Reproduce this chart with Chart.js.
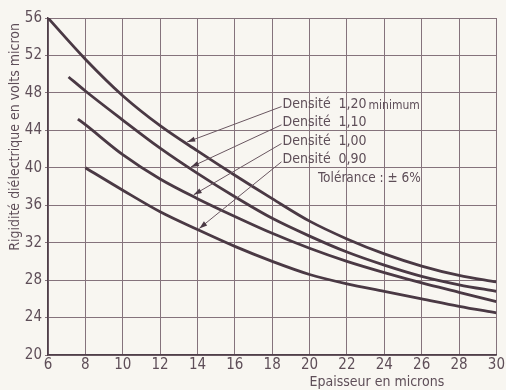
<!DOCTYPE html>
<html>
<head>
<meta charset="utf-8">
<script src="https://cdn.jsdelivr.net/npm/chart.js@4.4.1/dist/chart.umd.min.js"></script>
<style>
  html, body { margin: 0; padding: 0; background: #f8f6f1; }
  #wrap { width: 506px; height: 390px; position: relative; }
</style>
</head>
<body>
<div id="wrap"><canvas id="c" width="506" height="390"></canvas></div>
<script>
// ---- data ----
const seriesNames = ['Densité 1,20 minimum', 'Densité 1,10', 'Densité 1,00', 'Densité 0,90'];
const densityWord = 'Densité';
const densityValues = ['1,20', '1,10', '1,00', '0,90'];
const firstSuffix = 'minimum';
const toleranceText = 'Tolérance : ± 6%';

const xD120 = [6, 8, 10, 12, 14, 16, 18, 20, 22, 24, 26, 28, 30];
const yD120 = [56, 51.6, 47.7, 44.5, 41.8, 39.2, 36.7, 34.3, 32.4, 30.8, 29.5, 28.5, 27.8];

const xD110 = [7.1, 8, 10, 12, 14, 16, 18, 20, 22, 24, 26, 28, 30];
const yD110 = [49.7, 48.2, 45.1, 42.1, 39.4, 36.9, 34.6, 32.7, 31.0, 29.6, 28.4, 27.5, 26.8];

const xD100 = [7.6, 8, 10, 12, 14, 16, 18, 20, 22, 24, 26, 28, 30];
const yD100 = [45.2, 44.6, 41.4, 38.8, 36.7, 34.8, 33.0, 31.4, 30.0, 28.8, 27.7, 26.7, 25.7];

const xD090 = [8, 10, 12, 14, 16, 18, 20, 22, 24, 26, 28, 30];
const yD090 = [40.0, 37.6, 35.3, 33.4, 31.6, 30.0, 28.6, 27.6, 26.8, 26.0, 25.2, 24.5];

const xTickLabels = ['6', '8', '10', '12', '14', '16', '18', '20', '22', '24', '26', '28', '30'];
const yTickLabels = ['20', '24', '28', '32', '36', '40', '44', '48', '52', '56'];
const xTitle = 'Epaisseur en microns';
const yTitle = 'Rigidité diélectrique en volts micron';

// ---- build ----
const xsAll = [xD120, xD110, xD100, xD090];
const ysAll = [yD120, yD110, yD100, yD090];
const FONT = "'DejaVu Sans Condensed', 'Liberation Sans Narrow', 'DejaVu Sans', sans-serif";
const INK = '#4a3944';
const GRID = '#85737c';
const TEXT = '#5e4e58';

function toPts(xs, ys) { return xs.map((x, i) => ({ x: x, y: ys[i] })); }
function interp(xs, ys, x) {
  for (let i = 0; i < xs.length - 1; i++) {
    if (x >= xs[i] && x <= xs[i + 1]) {
      const t = (x - xs[i]) / (xs[i + 1] - xs[i]);
      return ys[i] + t * (ys[i + 1] - ys[i]);
    }
  }
  return ys[ys.length - 1];
}

const datasets = seriesNames.map((name, i) => ({
  label: name,
  data: toPts(xsAll[i], ysAll[i]),
  showLine: true,
  borderColor: INK,
  borderWidth: 2.8,
  pointRadius: 0,
  cubicInterpolationMode: 'monotone',
  fill: false
}));

const paperPlugin = {
  id: 'paper',
  beforeDraw(chart) {
    const ctx = chart.ctx;
    ctx.save();
    ctx.fillStyle = '#f8f6f1';
    ctx.fillRect(0, 0, chart.width, chart.height);
    ctx.restore();
  }
};

const notesPlugin = {
  id: 'notes',
  afterDraw(chart) {
    const ctx = chart.ctx;
    const xs = chart.scales.x, ys = chart.scales.y;
    ctx.save();
    ctx.fillStyle = TEXT;
    ctx.strokeStyle = '#6a5761';
    // axis titles
    ctx.font = '14px ' + FONT;
    ctx.textAlign = 'center';
    ctx.textBaseline = 'middle';
    ctx.fillText(xTitle, xs.getPixelForValue(23.6), 382);
    ctx.save();
    ctx.translate(15, ys.getPixelForValue(43.3));
    ctx.rotate(-Math.PI / 2);
    ctx.font = '14px ' + FONT;
    ctx.fillText(yTitle, 0, 0);
    ctx.restore();

    // labels with leader lines
    const rowY = [46.75, 44.8, 42.8, 40.85];
    const arrowX = [13.45, 13.65, 13.8, 14.1];
    const wordX = xs.getPixelForValue(18.55);
    const valX = xs.getPixelForValue(21.55);
    ctx.textAlign = 'left';
    ctx.font = '14px ' + FONT;
    for (let i = 0; i < 4; i++) {
      const py = ys.getPixelForValue(rowY[i]);
      ctx.fillText(densityWord, wordX, py);
      ctx.fillText(densityValues[i], valX, py);
      if (i === 0) {
        const w = ctx.measureText(densityValues[i]).width;
        ctx.font = '12px ' + FONT;
        ctx.fillText(firstSuffix, valX + w + 2, py + 1);
        ctx.font = '14px ' + FONT;
      }
      // leader line
      const tx = xs.getPixelForValue(arrowX[i]);
      const ty = ys.getPixelForValue(interp(xsAll[i], ysAll[i], arrowX[i])) - 2;
      const sx = wordX - 1, sy = py + 2;
      ctx.lineWidth = 1;
      ctx.beginPath();
      ctx.moveTo(sx, sy);
      ctx.lineTo(tx, ty);
      ctx.stroke();
      // arrow head
      const ang = Math.atan2(ty - sy, tx - sx);
      const L = 8, W = 2.6;
      ctx.beginPath();
      ctx.moveTo(tx, ty);
      ctx.lineTo(tx - L * Math.cos(ang) + W * Math.sin(ang), ty - L * Math.sin(ang) - W * Math.cos(ang));
      ctx.lineTo(tx - L * Math.cos(ang) - W * Math.sin(ang), ty - L * Math.sin(ang) + W * Math.cos(ang));
      ctx.closePath();
      ctx.fillStyle = INK;
      ctx.fill();
      ctx.fillStyle = TEXT;
    }
    ctx.font = '13.5px ' + FONT;
    ctx.fillText(toleranceText, xs.getPixelForValue(20.45), ys.getPixelForValue(38.9));
    ctx.restore();
  }
};

new Chart(document.getElementById('c'), {
  type: 'scatter',
  data: { datasets: datasets },
  options: {
    responsive: false,
    animation: false,
    events: [],
    layout: { padding: { top: 18, right: 9, left: 0, bottom: 0 } },
    plugins: { legend: { display: false }, tooltip: { enabled: false } },
    scales: {
      x: {
        type: 'linear',
        min: 6, max: 30,
        afterFit(s) { s.height = 35; },
        ticks: {
          stepSize: 2,
          padding: 1,
          color: TEXT,
          font: { family: FONT, size: 15 },
          callback: (v, i) => xTickLabels[i]
        },
        grid: { color: GRID, lineWidth: 1, drawTicks: false },
        border: { color: '#4f3f49', width: 1.5 }
      },
      y: {
        type: 'linear',
        min: 20, max: 56,
        afterFit(s) { s.width = 48; },
        ticks: {
          stepSize: 4,
          padding: 3,
          color: TEXT,
          font: { family: FONT, size: 15 },
          callback: (v, i) => yTickLabels[i]
        },
        grid: { color: GRID, lineWidth: 1, drawTicks: true, tickLength: 3 },
        border: { color: '#4f3f49', width: 1.5 }
      }
    }
  },
  plugins: [paperPlugin, notesPlugin]
});
</script>
</body>
</html>
